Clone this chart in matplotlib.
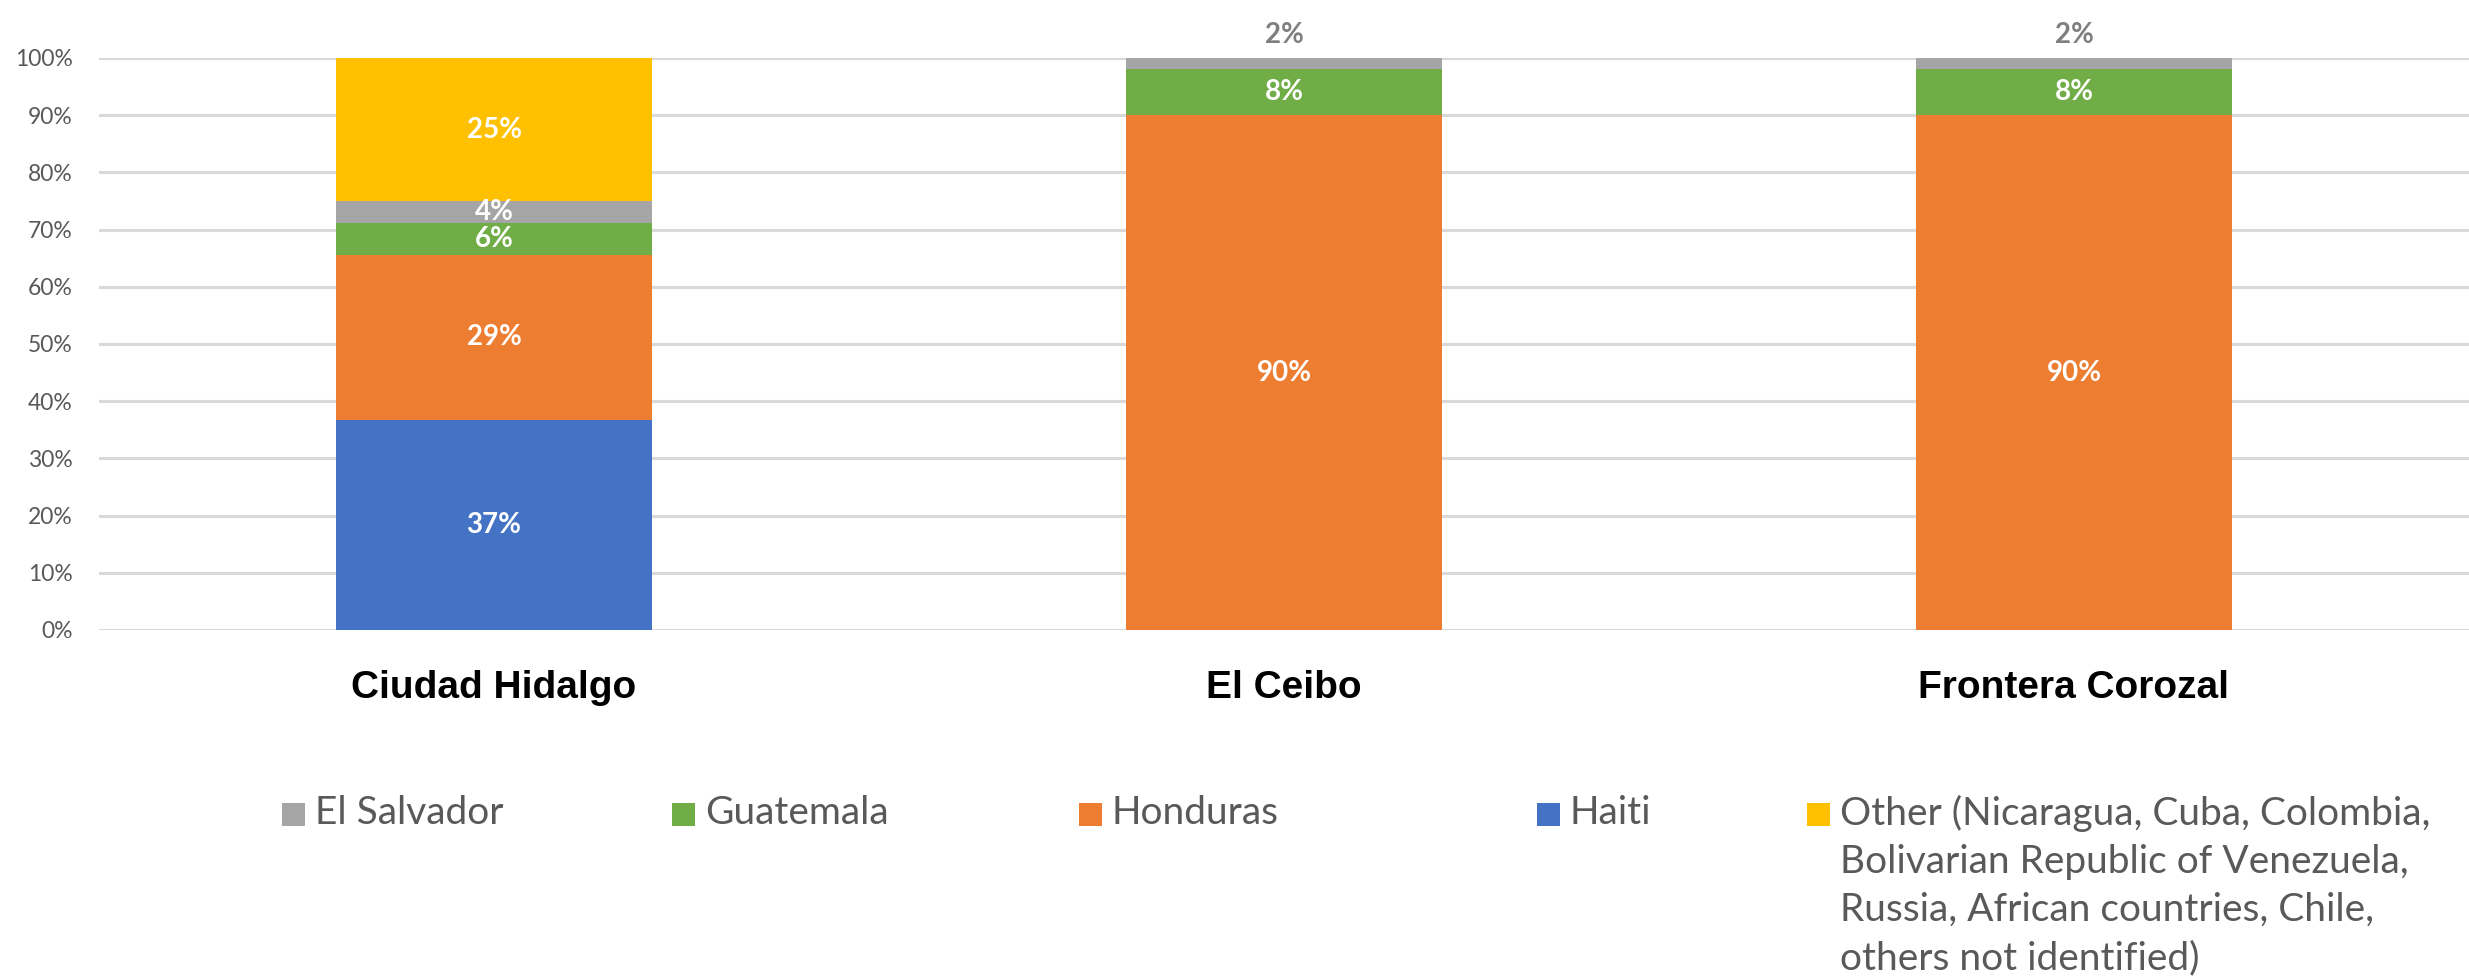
import numpy as np
import matplotlib.pyplot as plt
from matplotlib.patches import Rectangle
from matplotlib.legend_handler import HandlerPatch

# Data
sites = ['Ciudad Hidalgo', 'El Ceibo', 'Frontera Corozal']
haiti = [36.8, 0, 0]
honduras = [28.8, 90, 90]
guatemala = [5.5, 8, 8]
el_salvador = [3.9, 2, 2]
other = [25.0, 0, 0]

other_label = ('Other (Nicaragua, Cuba, Colombia,\nBolivarian Republic of Venezuela,\n'
               'Russia, African countries, Chile,\nothers not identified)')
series = [
    ('Haiti', haiti, '#4472C4'),
    ('Honduras', honduras, '#ED7D31'),
    ('Guatemala', guatemala, '#70AD47'),
    ('El Salvador', el_salvador, '#A5A5A5'),
    (other_label, other, '#FFC000'),
]

W, H = 2469, 976
fig = plt.figure(figsize=(W / 100, H / 100), dpi=100)
ax = fig.add_axes([99 / W, 1 - 630 / H, 1 - 99 / W, (630 - 58) / H])

x = np.arange(len(sites))
bottom = np.zeros(len(sites))
bars = {}
for name, vals, color in series:
    vals = np.array(vals, dtype=float)
    b = ax.bar(x, vals, 0.4, bottom=bottom, color=color, label=name, zorder=2)
    bars[name] = b
    for i, v in enumerate(vals):
        if v <= 0:
            continue
        if v < 3:
            # small segments get their label above the bar
            ax.text(x[i], bottom[i] + v + 4.0, f'{v:.0f}%', ha='center', va='center',
                    color='#7F7F7F', fontsize=20, fontweight='bold', family='Lato')
        else:
            ax.text(x[i], bottom[i] + v / 2, f'{v:.0f}%', ha='center', va='center',
                    color='white', fontsize=20, fontweight='bold', family='Lato')
    bottom += vals

ax.set_ylim(0, 100)
ax.set_xlim(-0.5, 2.5)
ax.set_yticks(np.arange(0, 101, 10))
ax.set_yticklabels([f'{t}%' for t in range(0, 101, 10)], family='Lato',
                   fontsize=16.5, color='#595959')
ax.set_xticks(x)
ax.set_xticklabels(sites, fontsize=28, fontweight='bold', family='Liberation Sans')
ax.tick_params(axis='both', length=0)
ax.tick_params(axis='x', pad=29)
ax.tick_params(axis='y', pad=19)
ax.yaxis.grid(True, color='#D9D9D9', linewidth=2.2, zorder=0)
ax.set_axisbelow(True)
for s in ax.spines.values():
    s.set_visible(False)


# square legend marker, centred in a box one text line tall
def square(legend, orig_handle, xdescent, ydescent, width, height, fontsize):
    s = width
    return Rectangle((-xdescent, -ydescent + (height - s) / 2), s, s)


# legend entries placed one by one
legend_order = ['El Salvador', 'Guatemala', 'Honduras', 'Haiti', other_label]
legend_x = [282, 672, 1079, 1537, 1807]
for name, lx in zip(legend_order, legend_x):
    lg = fig.legend(handles=[bars[name].patches[0]], labels=[name], loc='upper left',
                    bbox_to_anchor=(lx / W, 1 - 795 / H), frameon=False,
                    prop={'family': 'Lato', 'size': 28}, handlelength=0.59,
                    handleheight=1.15, handletextpad=0.25, labelcolor='#595959',
                    borderpad=0, borderaxespad=0,
                    handler_map={Rectangle: HandlerPatch(patch_func=square)})
    for col in lg._legend_handle_box.get_children():
        for item in col.get_children():
            item.align = 'top'
    for t in lg.get_texts():
        t.set_linespacing(1.41)

fig.savefig('out.png', dpi=100)
